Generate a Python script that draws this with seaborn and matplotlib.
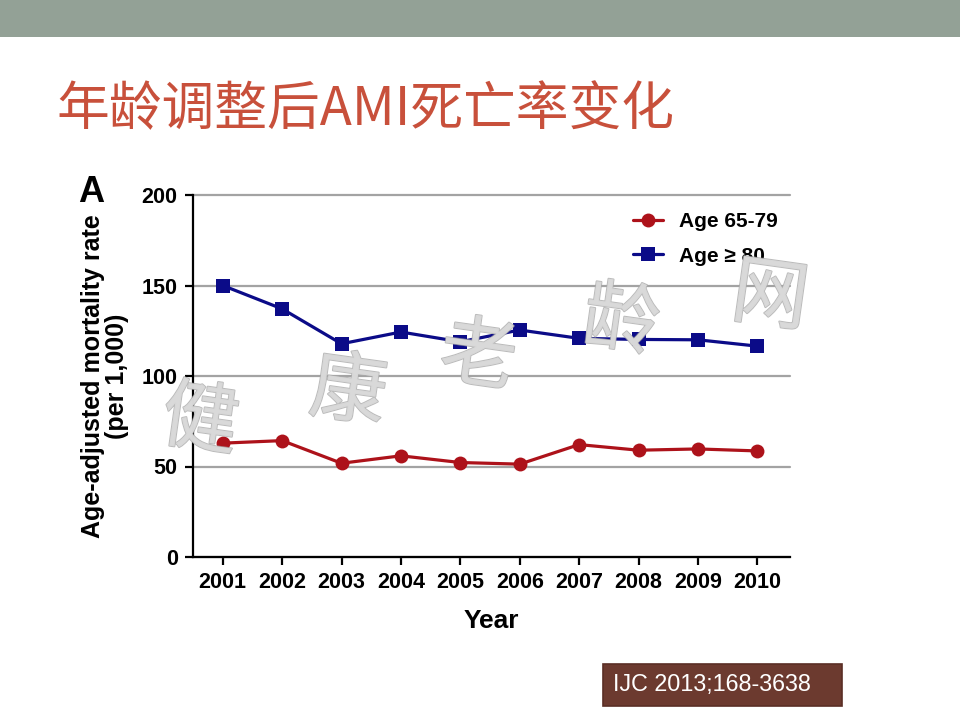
import pandas as pd
import matplotlib
matplotlib.use("Agg")
import matplotlib.pyplot as plt
import seaborn as sns
import matplotlib.patheffects as pe
from matplotlib.patches import Rectangle

# data
years = [2001, 2002, 2003, 2004, 2005, 2006, 2007, 2008, 2009, 2010]
age_65_79 = [62.9, 64.3, 51.8, 55.9, 52.2, 51.3, 62.1, 59.0, 59.7, 58.6]
age_80_plus = [150.0, 137.1, 117.8, 124.3, 118.9, 125.4, 120.8, 120.2, 120.0, 116.5]
series_names = ["Age 65-79", "Age \u2265 80"]
y_ticks = [0, 50, 100, 150, 200]

slide_title = "年龄调整后AMI死亡率变化"
citation = "IJC 2013;168-3638"
watermark = ["健", "康", "老", "龄", "网"]
# watermark centres in pixels (x from left, y from top)
watermark_pos = [(200, 422), (348, 393), (478, 358), (621, 323), (770, 298)]

W, H = 960, 720


def BuildFrame():
    rows = []
    for name, vals in zip(series_names, [age_65_79, age_80_plus]):
        for yr, v in zip(years, vals):
            rows.append({"Year": yr, "Rate": v, "Group": name})
    return pd.DataFrame(rows)


def SlideDecor(fig):
    # grey band on top
    fig.patches.append(Rectangle((0, 1 - 37 / H), 1, 37 / H, transform=fig.transFigure,
                                 facecolor="#93a196", edgecolor="none", zorder=0))
    fig.text(56 / W, 1 - 110 / H, slide_title, ha="left", va="center", fontsize=38,
             color="#c8503b", family=["Noto Sans CJK SC", "DejaVu Sans"])

    # citation box
    fig.patches.append(Rectangle((603 / W, 1 - 706 / H), 239 / W, 42 / H, transform=fig.transFigure,
                                 facecolor="#6c3a2f", edgecolor="#5a2e25", linewidth=1.2, zorder=1))
    fig.text(613 / W, 1 - 685 / H, citation, ha="left", va="center", fontsize=16.8,
             color="white", family=["Liberation Sans", "DejaVu Sans"], zorder=2)


def Watermark(fig):
    for ch, (cx, cy) in zip(watermark, watermark_pos):
        fig.text(cx / W, 1 - cy / H, ch, ha="center", va="center", fontsize=55,
                 rotation=-8, color="#d9d9d9", alpha=0.8, zorder=10,
                 family=["Noto Sans CJK SC"],
                 path_effects=[pe.withStroke(linewidth=1.4, foreground="#aaaaaa"), pe.Normal()])


def PlotGraph(df):
    fig = plt.figure(figsize=(W / 100, H / 100), dpi=100)
    ax = fig.add_axes([193 / W, 1 - 557 / H, (790 - 193) / W, (557 - 195) / H])

    sns.lineplot(data=df, x="Year", y="Rate", hue="Group", style="Group",
                 hue_order=series_names, style_order=series_names,
                 palette=["#ad121a", "#0b0b88"], markers={series_names[0]: "o", series_names[1]: "s"},
                 dashes=False, linewidth=2.3, markersize=10, markeredgewidth=0, ax=ax)

    ax.set_xlim(2000.5, 2010.55)
    ax.set_ylim(0, 200)
    ax.set_xticks(years)
    ax.set_xticklabels([str(y) for y in years])
    ax.set_yticks(y_ticks)

    ax.grid(axis="y", color="#a3a3a3", linewidth=1.6)
    for gl in ax.get_ygridlines():
        gl.set_clip_on(False)
    ax.set_axisbelow(True)

    sns.despine(ax=ax)
    for side in ["left", "bottom"]:
        ax.spines[side].set_linewidth(1.6)
        ax.spines[side].set_color("black")
    ax.tick_params(axis="both", direction="out", length=6, width=1.6, color="black",
                   labelcolor="black", labelsize=15.5, pad=5, left=True, bottom=True)
    for lab in ax.get_xticklabels() + ax.get_yticklabels():
        lab.set_fontweight("bold")

    ax.set_xlabel("Year", fontsize=19, fontweight="bold", labelpad=11, color="black")
    ax.set_ylabel("Age-adjusted mortality rate\n(per 1,000)", fontsize=18, fontweight="bold",
                  labelpad=9, linespacing=1.02, color="black")

    leg = ax.legend(loc="upper left", bbox_to_anchor=(633 / W, 1 - 212 / H),
                    bbox_transform=fig.transFigure, frameon=False, borderpad=0,
                    borderaxespad=0, handlelength=1.45, handletextpad=0.75, labelspacing=0.75,
                    prop={"weight": "bold", "size": 15})
    for t in leg.get_texts():
        t.set_color("black")

    fig.text(78 / W, 1 - 193 / H, "A", fontsize=26, fontweight="bold", ha="left", va="center",
             color="black")

    SlideDecor(fig)
    Watermark(fig)
    fig.savefig("out.png", dpi=100)


def main():
    sns.set_theme(style="white")
    plt.rcParams["font.family"] = ["Liberation Sans", "Noto Sans CJK SC", "DejaVu Sans"]
    df = BuildFrame()
    PlotGraph(df)


if __name__ == "__main__":
    main()
